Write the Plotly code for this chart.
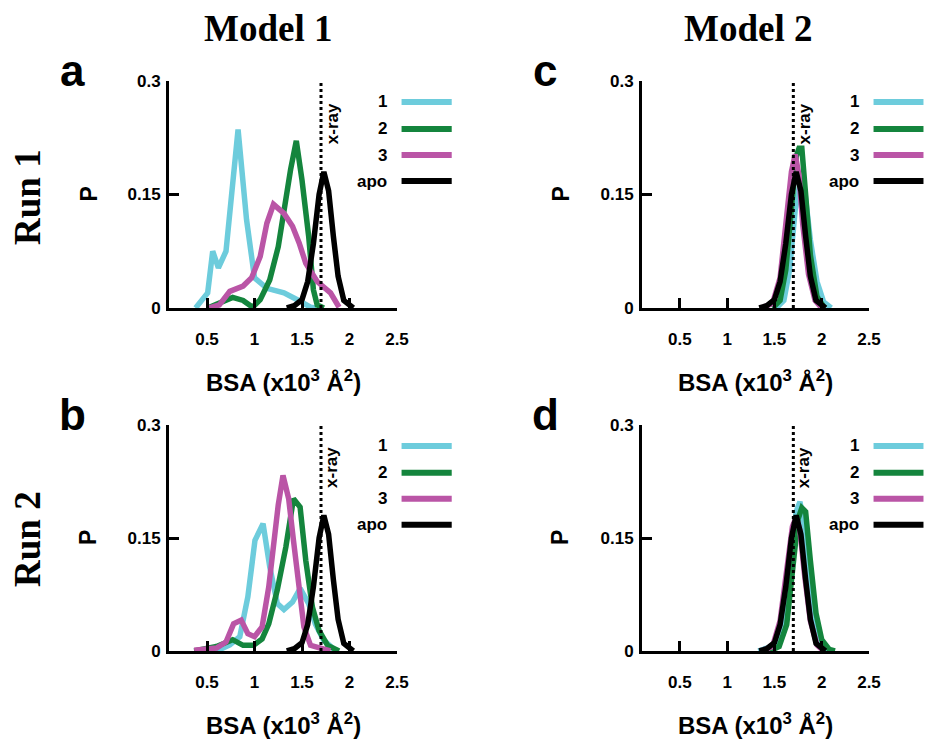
import plotly.graph_objects as go

# ---------------- data ----------------
SERIES = ["1", "2", "3", "apo"]
COLORS = ["#6DCCDC", "#14853D", "#BA55A6", "#000000"]
XRAY = 1.7
X_TICKS = [0.5, 1, 1.5, 2, 2.5]
X_TICK_LABELS = ["0.5", "1", "1.5", "2", "2.5"]
Y_TICKS = [0, 0.15, 0.3]
Y_TICK_LABELS = ["0", "0.15", "0.3"]
X_TITLE = "BSA (x10<sup>3</sup> Å<sup>2</sup>)"

# apo reference distribution (same in every panel)
apo_x = [1.34, 1.42, 1.50, 1.56, 1.62, 1.68, 1.73, 1.78, 1.83, 1.88, 1.94, 2.04]
apo_y = [0.0, 0.003, 0.011, 0.035, 0.085, 0.15, 0.18, 0.155, 0.095, 0.042, 0.01, 0.0]

# Panel a: Model 1, Run 1
a1_x = [0.38, 0.507, 0.56, 0.62, 0.70, 0.827, 0.916, 1.0, 1.13, 1.31, 1.45, 1.59, 1.65]
a1_y = [0.0, 0.02, 0.075, 0.053, 0.075, 0.236, 0.117, 0.04, 0.026, 0.02, 0.011, 0.001, 0.0]
a2_x = [0.507, 0.63, 0.77, 0.88, 0.98, 1.06, 1.16, 1.25, 1.32, 1.38, 1.44, 1.50, 1.57, 1.62, 1.66, 1.73]
a2_y = [0.0, 0.007, 0.014, 0.01, 0.001, 0.011, 0.037, 0.081, 0.139, 0.183, 0.221, 0.169, 0.095, 0.024, 0.004, 0.0]
a3_x = [0.525, 0.63, 0.74, 0.88, 0.97, 1.06, 1.13, 1.20, 1.31, 1.40, 1.47, 1.54, 1.66, 1.80, 1.89]
a3_y = [0.0, 0.004, 0.022, 0.029, 0.04, 0.068, 0.112, 0.137, 0.125, 0.108, 0.086, 0.059, 0.035, 0.02, 0.001]

# Panel b: Model 1, Run 2
b1_x = [0.365, 0.6, 0.74, 0.845, 0.93, 1.005, 1.09, 1.16, 1.24, 1.31, 1.40, 1.48, 1.57, 1.64, 1.73, 1.84]
b1_y = [0.0, 0.0, 0.008, 0.019, 0.072, 0.147, 0.169, 0.112, 0.063, 0.055, 0.065, 0.083, 0.063, 0.036, 0.014, 0.002]
b2_x = [0.365, 0.6, 0.77, 0.88, 0.99, 1.08, 1.15, 1.24, 1.33, 1.38, 1.41, 1.48, 1.54, 1.61, 1.68, 1.77, 1.89]
b2_y = [0.0, 0.006, 0.015, 0.0075, 0.0075, 0.016, 0.036, 0.081, 0.138, 0.174, 0.202, 0.191, 0.12, 0.058, 0.027, 0.0075, 0.0]
b3_x = [0.365, 0.6, 0.70, 0.78, 0.86, 0.93, 1.0, 1.08, 1.15, 1.21, 1.25, 1.30, 1.36, 1.41, 1.47, 1.52, 1.59, 1.70, 1.80]
b3_y = [0.001, 0.004, 0.012, 0.036, 0.041, 0.023, 0.019, 0.032, 0.085, 0.152, 0.194, 0.233, 0.202, 0.147, 0.09, 0.032, 0.0075, 0.003, 0.0]

# Panel c: Model 2, Run 1
c1_x = [1.52, 1.60, 1.66, 1.72, 1.77, 1.82, 1.88, 1.95, 2.02, 2.10]
c1_y = [0.0, 0.01, 0.05, 0.13, 0.165, 0.155, 0.09, 0.035, 0.008, 0.0]
c2_x = [1.48, 1.56, 1.62, 1.68, 1.73, 1.76, 1.79, 1.83, 1.88, 1.95, 2.03]
c2_y = [0.0, 0.01, 0.05, 0.14, 0.2, 0.211, 0.211, 0.15, 0.07, 0.015, 0.0]
c3_x = [1.36, 1.48, 1.56, 1.63, 1.68, 1.72, 1.76, 1.80, 1.86, 1.93, 2.0]
c3_y = [0.0, 0.006, 0.04, 0.12, 0.18, 0.203, 0.175, 0.11, 0.045, 0.01, 0.0]

# Panel d: Model 2, Run 2
d1_x = [1.33, 1.52, 1.60, 1.67, 1.73, 1.77, 1.81, 1.87, 1.93, 2.0, 2.08]
d1_y = [0.0, 0.008, 0.04, 0.12, 0.185, 0.198, 0.17, 0.095, 0.035, 0.008, 0.0]
d2_x = [1.45, 1.55, 1.63, 1.70, 1.75, 1.79, 1.83, 1.88, 1.94, 2.0, 2.08, 2.14]
d2_y = [0.0, 0.006, 0.035, 0.11, 0.175, 0.19, 0.185, 0.12, 0.05, 0.015, 0.002, 0.0]
d3_x = [1.36, 1.48, 1.56, 1.63, 1.69, 1.73, 1.77, 1.82, 1.88, 1.95, 2.02]
d3_y = [0.0, 0.006, 0.04, 0.11, 0.165, 0.178, 0.16, 0.1, 0.04, 0.008, 0.0]

PANELS = [
    # letter, axis suffix, run data
    ("a", "", [(a1_x, a1_y), (a2_x, a2_y), (a3_x, a3_y), (apo_x, apo_y)]),
    ("c", "2", [(c1_x, c1_y), (c2_x, c2_y), (c3_x, c3_y), (apo_x, apo_y)]),
    ("b", "3", [(b1_x, b1_y), (b2_x, b2_y), (b3_x, b3_y), (apo_x, apo_y)]),
    ("d", "4", [(d1_x, d1_y), (d2_x, d2_y), (d3_x, d3_y), (apo_x, apo_y)]),
]

# ---------------- layout geometry ----------------
W, H = 925, 739
XDOM_L = [169 / W, 397 / W]
XDOM_R = [642 / W, 869 / W]
YDOM_T = [1 - 308 / H, 1 - 81 / H]
YDOM_B = [1 - 651 / H, 1 - 425 / H]
DOMAINS = {"": (XDOM_L, YDOM_T), "2": (XDOM_R, YDOM_T), "3": (XDOM_L, YDOM_B), "4": (XDOM_R, YDOM_B)}

SANS = "Liberation Sans"
SERIF = "Liberation Serif"

fig = go.Figure()
layout = dict(
    width=W, height=H,
    margin=dict(l=0, r=0, t=0, b=0, pad=0, autoexpand=False),
    paper_bgcolor="white", plot_bgcolor="white",
    showlegend=False,
)

annotations = []
shapes = []

tickfont = dict(family=SANS, size=17, color="black", weight="bold")

for letter, s, runs in PANELS:
    xd, yd = DOMAINS[s]
    xname, yname = "x" + s, "y" + s
    left_col = s in ("", "3")
    for (xs, ys), name, col in zip(runs, SERIES, COLORS):
        fig.add_trace(go.Scatter(
            x=xs, y=ys, mode="lines", name=name,
            line=dict(color=col, width=5.5),
            xaxis=xname, yaxis=yname, cliponaxis=False,
        ))
    layout["xaxis" + s] = dict(
        domain=xd, anchor=yname, range=[0.1, 2.5],
        tickvals=X_TICKS, ticktext=X_TICK_LABELS,
        ticks="inside", ticklen=10, tickwidth=3, tickcolor="black",
        showline=True, linewidth=3, linecolor="black",
        showgrid=False, zeroline=False, tickfont=tickfont,
        ticklabelstandoff=14, automargin=False,
    )
    layout["yaxis" + s] = dict(
        domain=yd, anchor=xname, range=[0, 0.3],
        tickvals=Y_TICKS, ticktext=Y_TICK_LABELS,
        ticks="inside", ticklen=10, tickwidth=3, tickcolor="black",
        showline=True, linewidth=3, linecolor="black",
        showgrid=False, zeroline=False, tickfont=tickfont,
        ticklabelstandoff=2, automargin=False,
    )
    # x-ray dotted line
    shapes.append(dict(type="line", xref=xname, yref=yname,
                       x0=XRAY, x1=XRAY, y0=0, y1=0.3,
                       line=dict(color="black", width=3, dash="dot")))
    annotations.append(dict(text="x-ray", xref=xname, yref=yname + " domain",
                            x=XRAY, y=0.81, xshift=11, textangle=-90,
                            xanchor="center", yanchor="middle",
                            showarrow=False, font=dict(family=SANS, size=17, color="black", weight="bold")))
    # legend
    leg_y = [0.9075, 0.789, 0.674, 0.559]
    for name, col, ly in zip(SERIES, COLORS, leg_y):
        shapes.append(dict(type="line", xref=xname + " domain", yref=yname + " domain",
                           x0=1.02, x1=1.24, y0=ly, y1=ly,
                           line=dict(color=col, width=6)))
        annotations.append(dict(text=name, xref=xname + " domain", yref=yname + " domain",
                                x=0.965, y=ly, xanchor="right", yanchor="middle",
                                showarrow=False, font=dict(family=SANS, size=17, color="black", weight="bold")))
    # P label
    annotations.append(dict(text="P", xref="paper", yref="paper",
                            x=(88 if left_col else 560) / W, y=(yd[0] + yd[1]) / 2,
                            xanchor="center", yanchor="middle",
                            textangle=-90, showarrow=False,
                            font=dict(family=SANS, size=23, color="black", weight="bold")))
    # x title
    annotations.append(dict(text=X_TITLE, xref="paper", yref="paper",
                            x=(xd[0] + xd[1]) / 2, y=yd[0] - 73 / H,
                            xanchor="center", yanchor="middle",
                            showarrow=False,
                            font=dict(family=SANS, size=24, color="black", weight="bold")))
    # panel letter
    annotations.append(dict(text=letter, xref="paper", yref="paper",
                            x=(72 if left_col else 545) / W,
                            y=yd[1] + 11 / H, xanchor="center", yanchor="middle",
                            showarrow=False,
                            font=dict(family=SANS, size=44, color="black", weight="bold")))

# column / row titles
for txt, xp in [("Model 1", 268), ("Model 2", 748)]:
    annotations.append(dict(text=txt, xref="paper", yref="paper", x=xp / W, y=1 - 29 / H,
                            xanchor="center", yanchor="middle", showarrow=False,
                            font=dict(family=SERIF, size=37, color="black", weight="bold")))
for txt, yp in [("Run 1", 197), ("Run 2", 539)]:
    annotations.append(dict(text=txt, xref="paper", yref="paper", x=27 / W, y=1 - yp / H,
                            xanchor="center", yanchor="middle",
                            textangle=-90, showarrow=False,
                            font=dict(family=SERIF, size=37, color="black", weight="bold")))

layout["annotations"] = annotations
layout["shapes"] = shapes
fig.update_layout(**layout)
fig.write_html("out.html",
               config={"displayModeBar": False},
               post_script="document.body.style.margin='0';document.body.style.overflow='hidden';")
